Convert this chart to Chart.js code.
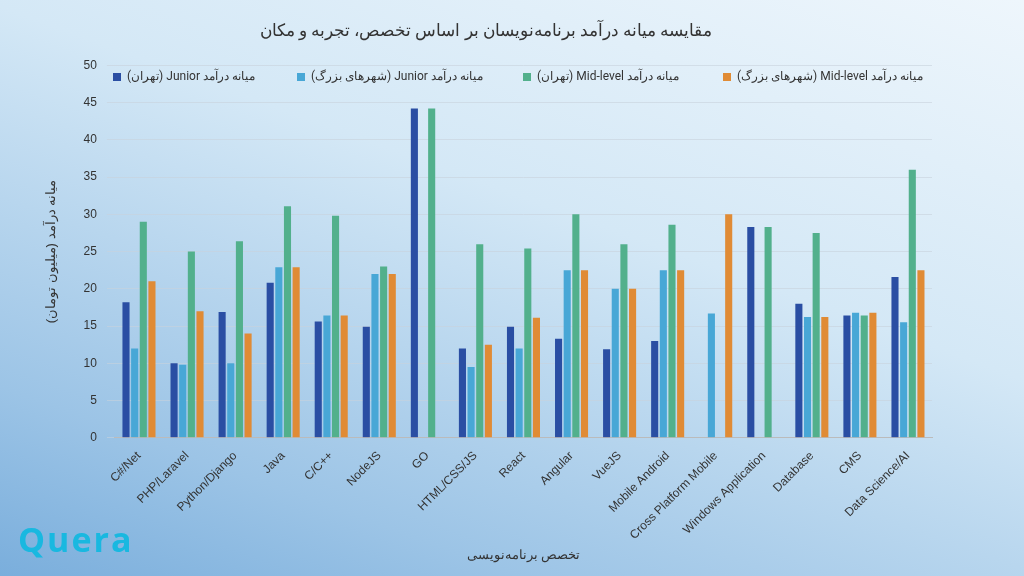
<!DOCTYPE html>
<html dir="ltr"><head><meta charset="utf-8">
<script src="https://cdn.jsdelivr.net/npm/chart.js@4"></script>
<style>
html,body{margin:0;padding:0;width:1024px;height:576px;overflow:hidden;}
body{background:linear-gradient(200deg,#eef6fc 0%,#d4e8f6 40%,#9cc4e6 80%,#7aaedc 100%);position:relative;font-family:Roboto,"Noto Sans",sans-serif;}
#wrap{position:absolute;left:0;top:0;width:1024px;height:576px;}
#logo{position:absolute;left:18px;bottom:14px;font:700 34px "Open Sans",sans-serif;color:#19b8e0;letter-spacing:2px;}
</style></head><body>
<div id="wrap"><canvas id="c" width="1024" height="576"></canvas></div>
<div id="logo">Quera</div>
<script>
const categories=["C#/Net","PHP/Laravel","Python/Django","Java","C/C++","NodeJS","GO","HTML/CSS/JS","React","Angular","VueJS","Mobile Android","Cross Platform Mobile","Windows Application","Database","CMS","Data Science/AI"];
const seriesNames=["میانه درآمد Junior (تهران)","میانه درآمد Junior (شهرهای بزرگ)","میانه درآمد Mid-level (تهران)","میانه درآمد Mid-level (شهرهای بزرگ)"];
const juniorTehran=[18.2,10,16.9,20.8,15.6,14.9,44.2,12,14.9,13.3,11.9,13,null,28.3,18,16.4,21.6];
const juniorCities=[12,9.8,10,22.9,16.4,22,null,9.5,12,22.5,20,22.5,16.7,null,16.2,16.8,15.5];
const midTehran=[29,25,26.4,31.1,29.8,23,44.2,26,25.4,30,26,28.6,null,28.3,27.5,16.4,36];
const midCities=[21,17,14,22.9,16.4,22,null,12.5,16.1,22.5,20,22.5,30,null,16.2,16.8,22.5];
const colors=["#2a4ea3","#48a7d6","#52b08c","#e08b35"];
const yTicks=[0,5,10,15,20,25,30,35,40,45,50];
const data=[juniorTehran,juniorCities,midTehran,midCities];
const legendX=[113,297,523,723];
const customLegend={id:'customLegend',afterDraw(chart){
  const ctx=chart.ctx;ctx.save();
  ctx.font='12px Roboto, "Noto Sans"';ctx.textBaseline='middle';
  chart.data.datasets.forEach((ds,i)=>{
    ctx.fillStyle=ds.backgroundColor;ctx.fillRect(legendX[i],73,8,8);
    ctx.fillStyle='#333';ctx.direction='rtl';ctx.textAlign='left';
    ctx.fillText(ds.label,legendX[i]+14,77);
  });
  ctx.restore();}};
new Chart(document.getElementById('c'),{type:'bar',
data:{labels:categories,datasets:data.map((d,i)=>({label:seriesNames[i],data:d,backgroundColor:colors[i],categoryPercentage:0.72,barPercentage:0.82}))},
plugins:[customLegend],
options:{responsive:false,animation:false,
layout:{padding:{left:40,right:92,top:10,bottom:9}},
plugins:{
title:{display:true,text:"مقایسه میانه درآمد برنامه‌نویسان بر اساس تخصص، تجربه و مکان",color:'#333',font:{family:'Roboto, "Noto Sans"',size:17,weight:'normal'},padding:{top:12,bottom:23}},
legend:{display:false},
tooltip:{enabled:false}},
scales:{
x:{grid:{display:false},border:{color:'#bbb'},ticks:{color:'#333',font:{size:12},minRotation:45,maxRotation:45,autoSkip:false},
title:{display:true,text:"تخصص برنامه‌نویسی",color:'#333',font:{size:13},padding:{top:2}}},
y:{min:0,max:50,afterBuildTicks:a=>{a.ticks=yTicks.map(v=>({value:v}));},grid:{color:'rgba(200,210,220,0.6)'},border:{display:false},ticks:{color:'#333',font:{size:12},padding:10},
title:{display:true,text:"میانه درآمد (میلیون تومان)",color:'#333',font:{size:13},padding:{bottom:14}}}}}});
</script></body></html>
